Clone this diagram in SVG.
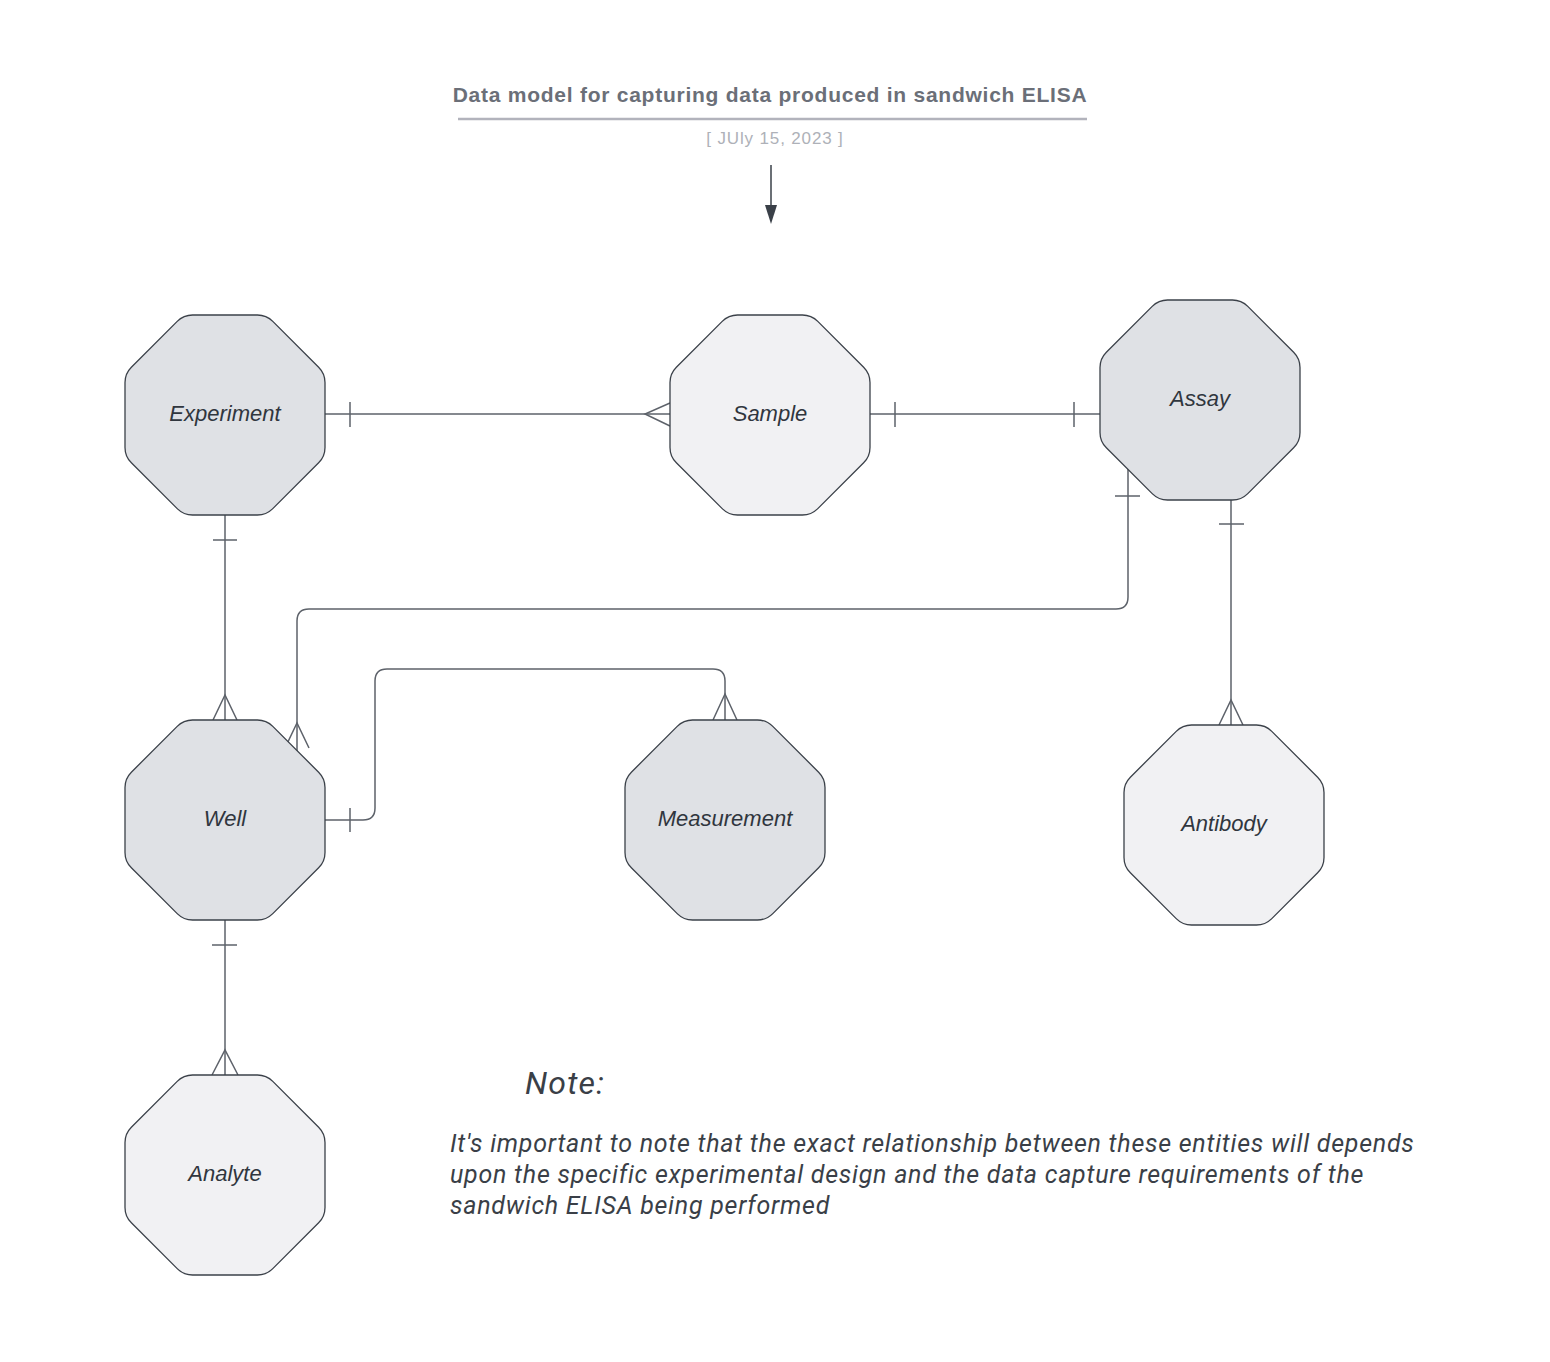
<svg xmlns="http://www.w3.org/2000/svg" xmlns:xlink="http://www.w3.org/1999/xlink" width="1550" height="1362" viewBox="0 0 1550 1362">
  <style>
    .oct-dark { fill: #dfe1e5; stroke: #3b4149; stroke-width: 1.3; }
    .oct-light { fill: #f1f1f3; stroke: #3b4149; stroke-width: 1.3; }
    .label { font-family: "Liberation Sans", Arial, sans-serif; font-style: italic; font-size: 22px; fill: #30363e; text-anchor: middle; }
    .conn { fill: none; stroke: #5d626a; stroke-width: 1.5; }
    .title { font-family: "Liberation Sans", Arial, sans-serif; font-weight: bold; font-size: 21px; letter-spacing: 0.75px; fill: #6b6f78; text-anchor: middle; }
    .date { font-family: "Liberation Sans", Arial, sans-serif; font-size: 17px; letter-spacing: 0.85px; fill: #aeb1b8; text-anchor: middle; }
    .note-head { font-family: Roboto, "Liberation Sans", sans-serif; font-style: italic; font-size: 32px; letter-spacing: 1.2px; fill: #3a3f47; }
    .note { font-family: Roboto, "Liberation Sans", sans-serif; font-style: italic; font-size: 25px; letter-spacing: 0.75px; fill: #3a3f47; }
  </style>
  <defs>
    <!-- regular 200x200 octagon with softened corners -->
    <path id="oct" d="M67.58,0 L132.42,0 Q141.42,0 147.78,6.36 L193.64,52.22 Q200,58.58 200,67.58 L200,132.42 Q200,141.42 193.64,147.78 L147.78,193.64 Q141.42,200 132.42,200 L67.58,200 Q58.58,200 52.22,193.64 L6.36,147.78 Q0,141.42 0,132.42 L0,67.58 Q0,58.58 6.36,52.22 L52.22,6.36 Q58.58,0 67.58,0 Z"/>
  </defs>

  <rect width="1550" height="1362" fill="#ffffff"/>

  <!-- heading -->
  <g id="header">
    <text class="title" x="770" y="102">Data model for capturing data produced in sandwich ELISA</text>
    <line x1="458" y1="119" x2="1087" y2="119" stroke="#b2b3bc" stroke-width="2.5"/>
    <text class="date" x="775" y="144">[ JUly 15, 2023 ]</text>
    <line x1="771" y1="165" x2="771" y2="207" stroke="#3a4048" stroke-width="1.5"/>
    <polygon points="765,205 777,205 771,224" fill="#3a4048"/>
  </g>

  <!-- relationships -->
  <g id="connectors">
    <!-- Experiment to Sample -->
    <g id="experiment-sample">
      <line class="conn" x1="325" y1="414" x2="670" y2="414"/>
      <line class="conn" x1="350" y1="402" x2="350" y2="427"/>
      <polyline class="conn" points="670,403 645,414 670,426"/>
    </g>
    <!-- Sample to Assay -->
    <g id="sample-assay">
      <line class="conn" x1="870" y1="414" x2="1100" y2="414"/>
      <line class="conn" x1="895" y1="402" x2="895" y2="427"/>
      <line class="conn" x1="1074" y1="402" x2="1074" y2="427"/>
    </g>
    <!-- Experiment to Well -->
    <g id="experiment-well">
      <line class="conn" x1="225" y1="515" x2="225" y2="720"/>
      <line class="conn" x1="213" y1="540" x2="237" y2="540"/>
      <polyline class="conn" points="213,720 225,695 237,720"/>
    </g>
    <!-- Assay to Well -->
    <g id="assay-well">
      <path class="conn" d="M1128,469 L1128,597 Q1128,609 1116,609 L309,609 Q297,609 297,621 L297,751"/>
      <line class="conn" x1="1115" y1="496" x2="1140" y2="496"/>
      <polyline class="conn" points="285,748 297,723 309,748"/>
    </g>
    <!-- Well to Measurement -->
    <g id="well-measurement">
      <path class="conn" d="M325,820 L363,820 Q375,820 375,808 L375,681 Q375,669 387,669 L713,669 Q725,669 725,681 L725,720"/>
      <line class="conn" x1="350" y1="808" x2="350" y2="832"/>
      <polyline class="conn" points="713,720 725,694 737,720"/>
    </g>
    <!-- Assay to Antibody -->
    <g id="assay-antibody">
      <line class="conn" x1="1231" y1="500" x2="1231" y2="725"/>
      <line class="conn" x1="1219" y1="524" x2="1244" y2="524"/>
      <polyline class="conn" points="1219,725 1231,700 1243,725"/>
    </g>
    <!-- Well to Analyte -->
    <g id="well-analyte">
      <line class="conn" x1="225" y1="920" x2="225" y2="1075"/>
      <line class="conn" x1="212" y1="945" x2="237" y2="945"/>
      <polyline class="conn" points="212,1075 225,1050 238,1075"/>
    </g>
  </g>

  <!-- entities -->
  <g id="experiment">
    <use xlink:href="#oct" class="oct-dark" x="125" y="315"/>
    <text class="label" x="225" y="421">Experiment</text>
  </g>
  <g id="sample">
    <use xlink:href="#oct" class="oct-light" x="670" y="315"/>
    <text class="label" x="770" y="421">Sample</text>
  </g>
  <g id="assay">
    <use xlink:href="#oct" class="oct-dark" x="1100" y="300"/>
    <text class="label" x="1200" y="406">Assay</text>
  </g>
  <g id="well">
    <use xlink:href="#oct" class="oct-dark" x="125" y="720"/>
    <text class="label" x="225" y="826">Well</text>
  </g>
  <g id="measurement">
    <use xlink:href="#oct" class="oct-dark" x="625" y="720"/>
    <text class="label" x="725" y="826">Measurement</text>
  </g>
  <g id="antibody">
    <use xlink:href="#oct" class="oct-light" x="1124" y="725"/>
    <text class="label" x="1224" y="831">Antibody</text>
  </g>
  <g id="analyte">
    <use xlink:href="#oct" class="oct-light" x="125" y="1075"/>
    <text class="label" x="225" y="1181">Analyte</text>
  </g>

  <!-- note -->
  <g id="note">
    <text class="note-head" x="525" y="1094">Note:</text>
    <text class="note" x="450" y="1152">It's important to note that the exact relationship between these entities will depends</text>
    <text class="note" x="450" y="1183">upon the specific experimental design and the data capture requirements of the</text>
    <text class="note" x="450" y="1214">sandwich ELISA being performed</text>
  </g>
</svg>
